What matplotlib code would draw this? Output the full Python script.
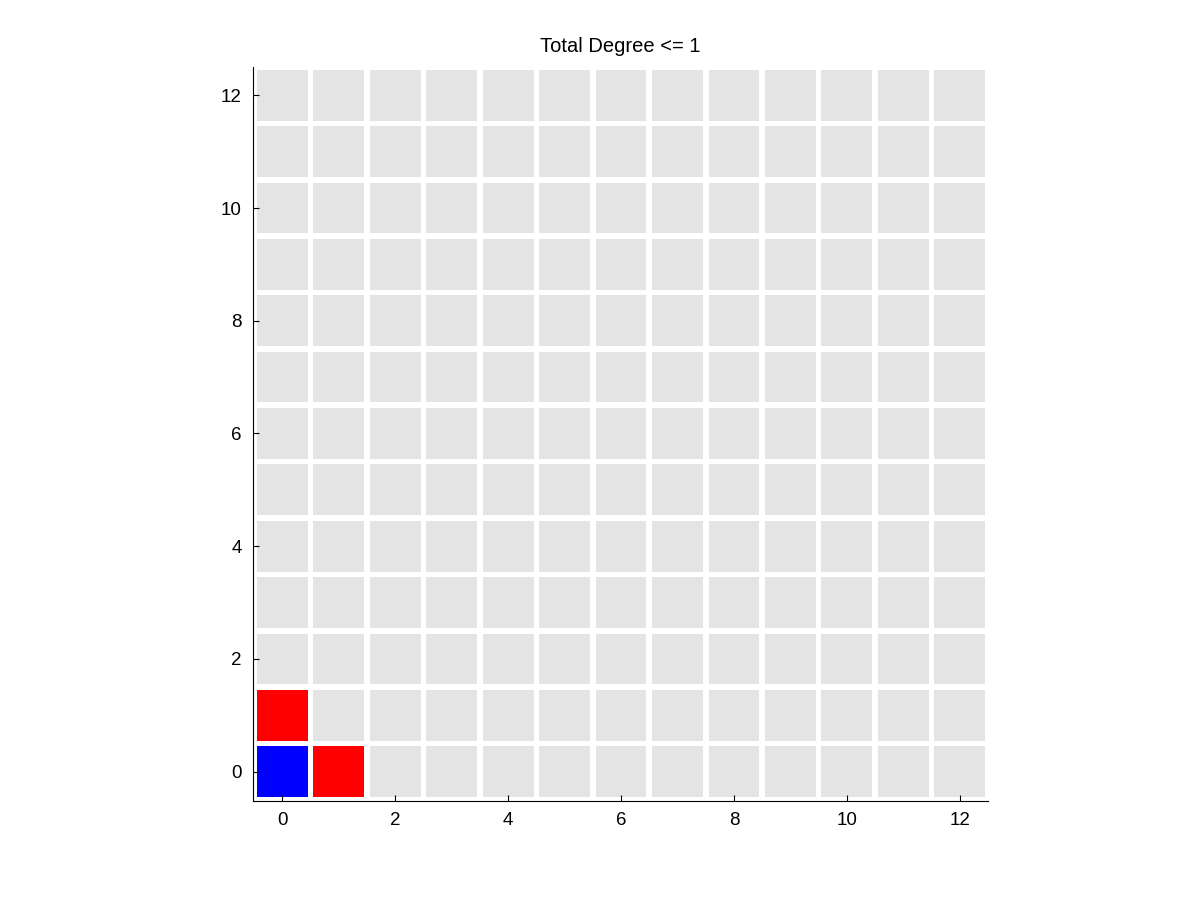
import matplotlib
matplotlib.use('Agg')
import matplotlib.pyplot as plt
from matplotlib.patches import Rectangle

# grid size and highlighted cells
n = 13
blue_cells = [(0, 0)]
red_cells = [(1, 0), (0, 1)]
ticks = [0, 2, 4, 6, 8, 10, 12]
title = 'Total Degree <= 1'

plt.rcParams['font.family'] = ['Liberation Sans', 'DejaVu Sans']

fig = plt.figure(figsize=(12, 9.01), dpi=100)
ax = fig.add_axes([0.2108, 0.111, 0.6125, 0.8145])

w = 0.9
for i in range(n):
    for j in range(n):
        if (i, j) in blue_cells:
            c = '#0000ff'
        elif (i, j) in red_cells:
            c = '#ff0000'
        else:
            c = '#e4e4e4'
        ax.add_patch(Rectangle((i - w / 2, j - w / 2), w, w, facecolor=c, edgecolor='none'))

ax.set_xlim(-0.52, 12.5)
ax.set_ylim(-0.52, 12.5)
ax.set_xticks(ticks)
ax.set_yticks(ticks)
ax.tick_params(direction='in', length=4, labelsize=13.5, width=0.8, pad=8)
ax.spines['top'].set_visible(False)
ax.spines['right'].set_visible(False)
ax.set_title(title, fontsize=14.5, pad=11)

fig.savefig('out.png', dpi=100)
